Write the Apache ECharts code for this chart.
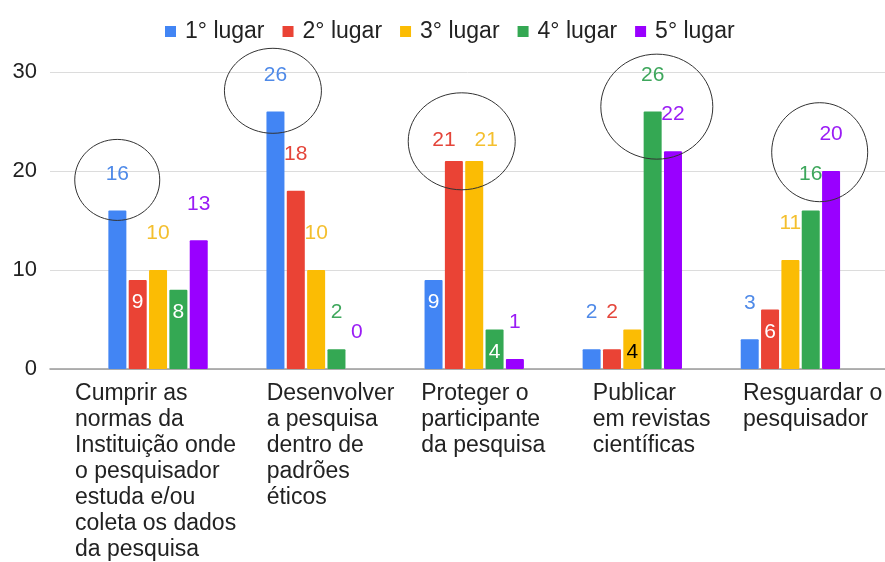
<!DOCTYPE html>
<html><head><meta charset="utf-8">
<script src="https://cdn.jsdelivr.net/npm/echarts@6/dist/echarts.min.js"></script>
<style>html,body{margin:0;padding:0;background:#fff}#c{width:885px;height:562px}</style>
</head><body><div id="c"></div>
<script>
// ---- data ----
const categories = [
  'Cumprir as\nnormas da\nInstituição onde\no pesquisador\nestuda e/ou\ncoleta os dados\nda pesquisa',
  'Desenvolver\na pesquisa\ndentro de\npadrões\néticos',
  'Proteger o\nparticipante\nda pesquisa',
  'Publicar\nem revistas\ncientíficas',
  'Resguardar o\npesquisador'
];
const seriesNames = ['1° lugar', '2° lugar', '3° lugar', '4° lugar', '5° lugar'];
const lugar1 = [16, 26, 9, 2, 3];
const lugar2 = [9, 18, 21, 2, 6];
const lugar3 = [10, 10, 21, 4, 11];
const lugar4 = [8, 2, 4, 26, 16];
const lugar5 = [13, 0, 1, 22, 20];
const yTicks = [0, 10, 20, 30];

// ---- styling ----
const colors = ['#4285F4', '#EA4335', '#FBBC04', '#34A853', '#9900FF'];
const labelColors = ['#4f8ae8', '#e4453a', '#f4bf2e', '#3ea75c', '#9a1cf5'];
const labelPlacement = [
  ['top', 'top', 'in', 'top', 'top'],
  ['in', 'top', 'nearL', 'top', 'in'],
  ['top', 'top', 'nearR', 'inDark', 'top'],
  ['in', 'top', 'in', 'top', 'top'],
  ['top', 'top', 'top', 'top', 'top']
];
const labelBoxWidths = [166, 99, 106, 79, 95];
// highlight ellipses (data-anchored annotations)
const highlights = [
  { cat: 0, value: 19.1, dx: -40.8, rx: 42.5, ry: 40.5 },
  { cat: 1, value: 28.1, dx: -43.2, rx: 48.5, ry: 42.5 },
  { cat: 2, value: 23.0, dx: -12.5, rx: 53.5, ry: 48.5 },
  { cat: 3, value: 26.5, dx: 24.5, rx: 56, ry: 52.5 },
  { cat: 4, value: 21.9, dx: 29.3, rx: 48, ry: 49.5 }
];

const FONT = 'Liberation Sans, Arial, sans-serif';
const allValues = [lugar1, lugar2, lugar3, lugar4, lugar5];

function makeLabel(mode, si) {
  const base = { show: true, fontSize: 21, fontFamily: FONT };
  if (mode === 'top') return Object.assign(base, { position: 'top', distance: 26, color: labelColors[si] });
  if (mode === 'in') return Object.assign(base, { position: 'insideTop', distance: 12, color: '#ffffff' });
  if (mode === 'inDark') return Object.assign(base, { position: 'insideTop', distance: 12, color: '#000000' });
  if (mode === 'nearL') return Object.assign(base, { position: 'top', distance: 10.5, offset: [-10, 0], color: labelColors[si] });
  if (mode === 'nearR') return Object.assign(base, { position: 'top', distance: 10.5, offset: [12, 0], color: labelColors[si] });
}

const series = allValues.map((vals, si) => ({
  name: seriesNames[si],
  type: 'bar',
  xAxisIndex: 1,
  yAxisIndex: 1,
  barWidth: 18,
  barGap: '13%',
  itemStyle: { color: colors[si], borderRadius: 1 },
  data: vals.map((v, ci) => ({ value: v, label: makeLabel(labelPlacement[si][ci], si) }))
}));

const rich = {};
labelBoxWidths.forEach((w, i) => {
  rich['c' + i] = { width: w, align: 'left', fontSize: 23, lineHeight: 26, color: '#222', fontFamily: FONT };
});

const chart = echarts.init(document.getElementById('c'), null, { renderer: 'canvas' });
const option = {
  animation: false,
  backgroundColor: '#ffffff',
  color: colors,
  legend: {
    data: seriesNames,
    left: 160,
    top: 15,
    icon: 'path://M0,0H10V10H0Z',
    itemWidth: 19,
    itemHeight: 11,
    itemGap: 18,
    textStyle: { fontSize: 23, color: '#222', fontFamily: FONT }
  },
  grid: [
    { left: 50, right: 0, top: 72, bottom: 193 },
    { left: 79, right: 13, top: 72, bottom: 193 }
  ],
  xAxis: [
    {
      gridIndex: 0, type: 'value', min: 0, max: 1,
      axisLine: { show: true, lineStyle: { color: '#9a9a9a', width: 1.5 } },
      axisTick: { show: false }, axisLabel: { show: false }, splitLine: { show: false }
    },
    {
      gridIndex: 1, type: 'category', data: categories,
      axisLine: { show: false }, axisTick: { show: false },
      axisLabel: {
        interval: 0, margin: 12, align: 'center', verticalAlign: 'top',
        formatter: (val, idx) => '{c' + idx + '|' + val + '}',
        rich: rich
      }
    }
  ],
  yAxis: [
    {
      gridIndex: 0, type: 'value', min: yTicks[0], max: yTicks[yTicks.length - 1], interval: yTicks[1] - yTicks[0],
      axisLine: { show: false }, axisTick: { show: false },
      axisLabel: { fontSize: 22, color: '#222', margin: 13, fontFamily: FONT },
      splitLine: { lineStyle: { color: '#dcdcdc', width: 1 } }
    },
    {
      gridIndex: 1, type: 'value', min: yTicks[0], max: yTicks[yTicks.length - 1], interval: yTicks[1] - yTicks[0],
      show: false, splitLine: { show: false }
    }
  ],
  series: series
};
chart.setOption(option);

const graphics = highlights.map(h => {
  const p = chart.convertToPixel({ seriesIndex: 0 }, [h.cat, h.value]);
  return {
    type: 'ellipse',
    shape: { cx: p[0] + h.dx, cy: p[1], rx: h.rx, ry: h.ry },
    style: { fill: 'none', stroke: '#333', lineWidth: 1 },
    z: 100, silent: true
  };
});
chart.setOption({ graphic: graphics });
</script>
</body></html>
